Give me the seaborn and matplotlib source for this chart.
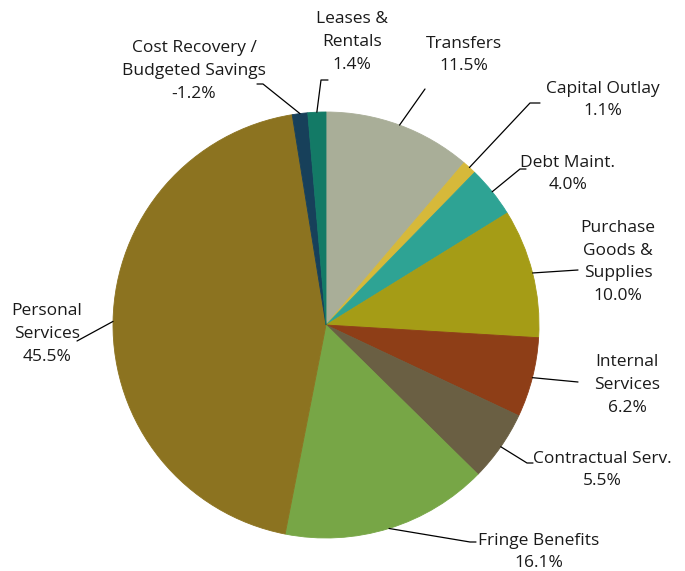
import numpy as np
import matplotlib
matplotlib.use("Agg")
import matplotlib.pyplot as plt
import seaborn as sns

# Budget shares, clockwise from 12 o'clock
categories = ["Transfers", "Capital Outlay", "Debt Maint.", "Purchase Goods & Supplies",
              "Internal Services", "Contractual Serv.", "Fringe Benefits",
              "Personal Services", "Cost Recovery / Budgeted Savings", "Leases & Rentals"]
label_text = ["Transfers", "Capital Outlay", "Debt Maint.", "Purchase\nGoods &\nSupplies",
              "Internal\nServices", "Contractual Serv.", "Fringe Benefits",
              "Personal\nServices", "Cost Recovery /\nBudgeted Savings", "Leases &\nRentals"]
shares = [11.5, 1.1, 4.0, 10.0, 6.2, 5.5, 16.1, 45.5, -1.2, 1.4]
colors = ["#a9ae98", "#d6b93a", "#2ea394", "#a59c16", "#8e3e17",
          "#6a5f43", "#77a646", "#8c7320", "#17405a", "#137a66"]

W, H = 685, 571
# label layout in pixel coords: text centre, leader path after the slice anchor
layout = {
    "Transfers": ((464, 55), [(425, 89)]),
    "Capital Outlay": ((603, 100), [(530, 103), (540, 103)]),
    "Debt Maint.": ((568, 174), [(520, 169), (526, 169)]),
    "Purchase Goods & Supplies": ((618, 262), [(578, 270)]),
    "Internal Services": ((627, 385), [(578, 382)]),
    "Contractual Serv.": ((602, 470), [(527, 463), (533, 463)]),
    "Fringe Benefits": ((539, 552), [(470, 542), (476, 542)]),
    "Personal Services": ((47, 334), [(77, 341)]),
    "Cost Recovery / Budgeted Savings": ((194, 71), [(263, 84), (257, 84)]),
    "Leases & Rentals": ((352, 42), [(321, 80), (328, 80)]),
}

sns.set_theme(style="white")
plt.rcParams["font.family"] = ["Open Sans", "DejaVu Sans"]

fig = plt.figure(figsize=(6.85, 5.71), dpi=100)
ax = fig.add_axes([0, 0, 1, 1])

cx, cy, r = 326, H - 325, 213
wedges, _ = ax.pie(np.abs(shares), startangle=90, counterclock=False, colors=colors,
                   center=(cx, cy), radius=r, wedgeprops=dict(linewidth=0.6))
for w in wedges:
    w.set_edgecolor(w.get_facecolor())

for name, txt, val, w in zip(categories, label_text, shares, wedges):
    mid = np.deg2rad((w.theta1 + w.theta2) / 2)
    ax_x, ax_y = cx + r * np.cos(mid), cy + r * np.sin(mid)
    (tx, ty), path = layout[name]
    xs = [ax_x] + [p[0] for p in path]
    ys = [ax_y] + [H - p[1] for p in path]
    ax.plot(xs, ys, color="black", lw=0.9)
    ax.text(tx, H - ty, f"{txt}\n{val:.1f}%", ha="center", va="center",
            fontsize=12.5, linespacing=1.58, color="#1a1a1a")

ax.set_xlim(0, W)
ax.set_ylim(0, H)
ax.set_aspect("auto")
ax.axis("off")

fig.savefig("out.png", dpi=100)
